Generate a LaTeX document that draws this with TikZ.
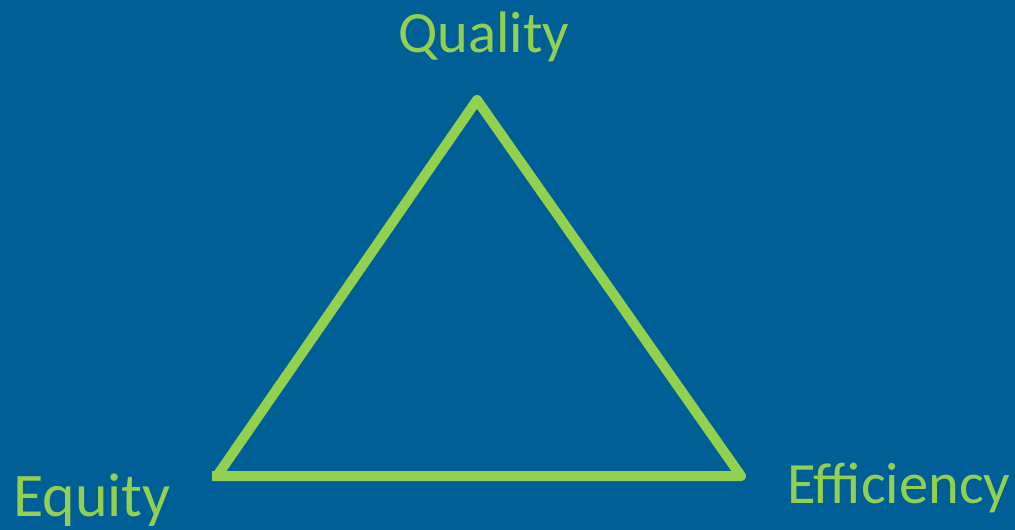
\documentclass[tikz,border=0pt]{standalone}
\usepackage{fontspec}
\setmainfont{Carlito}
\definecolor{bg}{HTML}{005F97}
\definecolor{lime}{HTML}{92D050}
\begin{document}
\begin{tikzpicture}[x=1pt,y=-1pt,
  lbl/.style={text=lime,font=\fontsize{58.5}{62}\selectfont,inner sep=0pt,anchor=base west}]
\fill[bg] (0,0) rectangle (1015,530);
\useasboundingbox (0,0) rectangle (1015,530);
\coordinate (A) at (217,476);
\coordinate (B) at (477,100);
\coordinate (C) at (741,476);
\coordinate (A2) at (212,476);
\draw[lime,line width=10pt,line join=round,line cap=butt] (A) -- (B) -- (C) -- (A2);
\node[lbl] (q) at (398,52) {Quality};
\node[lbl,font=\fontsize{62}{66}\selectfont] (eq) at (13,516) {Equity};
\node[lbl] (ef) at (787,503) {Efficiency};
\end{tikzpicture}
\end{document}
